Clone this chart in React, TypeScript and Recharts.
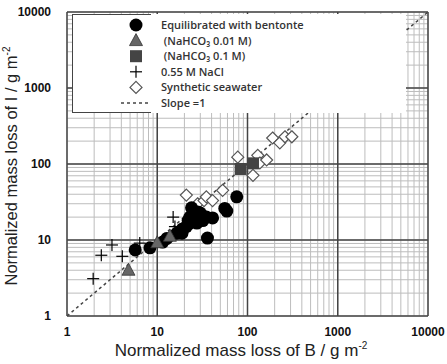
import React from "react";
import {
  ScatterChart,
  Scatter,
  XAxis,
  YAxis,
  CartesianGrid,
  ReferenceLine,
} from "recharts";

const decades = [1, 10, 100, 1000, 10000];
const gridTicks = [
  1, 2, 3, 4, 5, 6, 7, 8, 9, 10, 20, 30, 40, 50, 60, 70, 80, 90, 100, 200,
  300, 400, 500, 600, 700, 800, 900, 1000, 2000, 3000, 4000, 5000, 6000, 7000,
  8000, 9000, 10000,
];

const bentonite = [
  { x: 5.7, y: 7.4 },
  { x: 8.3, y: 7.9 },
  { x: 11.5, y: 9.4 },
  { x: 12.8, y: 10.5 },
  { x: 16.5, y: 12.3 },
  { x: 18.8, y: 12.3 },
  { x: 19, y: 14 },
  { x: 21, y: 15 },
  { x: 22, y: 18 },
  { x: 23, y: 20 },
  { x: 23, y: 16.7 },
  { x: 24, y: 26.5 },
  { x: 25, y: 18 },
  { x: 26, y: 21 },
  { x: 27.5, y: 16.7 },
  { x: 28, y: 23.4 },
  { x: 30, y: 22.6 },
  { x: 32, y: 18 },
  { x: 32, y: 20 },
  { x: 35, y: 20 },
  { x: 36, y: 10.6 },
  { x: 41, y: 19.5 },
  { x: 56, y: 26 },
  { x: 59, y: 24 },
  { x: 76, y: 37 },
];
const nahco3Low = [
  { x: 4.8, y: 4.0 },
  { x: 10, y: 9.2 },
  { x: 13.8, y: 11.2 },
];
const nahco3High = [
  { x: 84, y: 86 },
  { x: 115, y: 102 },
];
const nacl = [
  { x: 1.95, y: 3.1 },
  { x: 2.4, y: 6.3 },
  { x: 3.15, y: 8.6 },
  { x: 4.1, y: 6.1 },
  { x: 6.4, y: 9.1 },
  { x: 15, y: 20 },
  { x: 15.7, y: 15 },
];
const seawater = [
  { x: 21, y: 39 },
  { x: 28, y: 30 },
  { x: 33, y: 33 },
  { x: 35, y: 37 },
  { x: 41, y: 33 },
  { x: 53, y: 45 },
  { x: 78, y: 123 },
  { x: 115, y: 71 },
  { x: 130, y: 130 },
  { x: 137, y: 103 },
  { x: 163, y: 113 },
  { x: 190, y: 220 },
  { x: 228, y: 190 },
  { x: 260, y: 228 },
  { x: 310, y: 228 },
];
const slopeLine = [
  { x: 1, y: 1 },
  { x: 10000, y: 10000 },
];

const legendItems = [
  "Equilibrated with bentonte",
  " (NaHCO₃ 0.01 M)",
  " (NaHCO₃ 0.1 M)",
  "0.55 M NaCl",
  "Synthetic seawater",
  "Slope =1",
];

const Dot = (p: any) => <circle cx={p.cx} cy={p.cy} r={6.5} fill="#000" />;
const Tri = (p: any) => (
  <polygon
    points={`${p.cx},${p.cy - 7} ${p.cx - 6.5},${p.cy + 5} ${p.cx + 6.5},${p.cy + 5}`}
    fill="#666"
    stroke="#333"
    strokeWidth={0.8}
  />
);
const Sq = (p: any) => (
  <rect x={p.cx - 6} y={p.cy - 6} width={12} height={12} fill="#444" />
);
const Plus = (p: any) => (
  <g stroke="#000" strokeWidth={1.2}>
    <line x1={p.cx - 6} y1={p.cy} x2={p.cx + 6} y2={p.cy} />
    <line x1={p.cx} y1={p.cy - 6} x2={p.cx} y2={p.cy + 6} />
  </g>
);
const Diamond = (p: any) => (
  <polygon
    points={`${p.cx},${p.cy - 6} ${p.cx + 6},${p.cy} ${p.cx},${p.cy + 6} ${p.cx - 6},${p.cy}`}
    fill="#fff"
    stroke="#555"
    strokeWidth={1.2}
  />
);

const fmt = (v: number) => (decades.includes(v) ? String(v) : "");

export default function App() {
  return (
    <div
      style={{
        position: "absolute",
        left: 0,
        top: 0,
        width: 447,
        height: 364,
        background: "#fff",
        fontFamily: "Liberation Sans, Arial, sans-serif",
      }}
    >
      <ScatterChart
        width={447}
        height={364}
        margin={{ top: 12, right: 19, bottom: 0, left: 0 }}
      >
        <CartesianGrid stroke="#bdbdbd" strokeWidth={1} />
        <XAxis
          type="number"
          dataKey="x"
          scale="log"
          domain={[1, 10000]}
          ticks={gridTicks}
          interval={0}
          tickFormatter={fmt}
          allowDataOverflow
          axisLine={false}
          tickLine={false}
          tick={{ fill: "#111", fontSize: 12, fontWeight: "bold" }}
          tickMargin={5}
          height={48}
        />
        <YAxis
          type="number"
          dataKey="y"
          scale="log"
          domain={[1, 10000]}
          ticks={gridTicks}
          interval={0}
          tickFormatter={fmt}
          allowDataOverflow
          axisLine={false}
          tickLine={false}
          tick={{ fill: "#111", fontSize: 12, fontWeight: "bold" }}
          tickMargin={10}
          width={67}
        />
        {decades.map((d) => (
          <ReferenceLine key={"x" + d} x={d} stroke="#444" strokeWidth={1.5} />
        ))}
        {decades.map((d) => (
          <ReferenceLine key={"y" + d} y={d} stroke="#444" strokeWidth={1.5} />
        ))}
        <Scatter
          data={slopeLine}
          line={{ stroke: "#444", strokeWidth: 1.5, strokeDasharray: "3 3" }}
          shape={() => <g />}
          isAnimationActive={false}
        />
        <Scatter data={seawater} shape={Diamond} isAnimationActive={false} />
        <Scatter data={nacl} shape={Plus} isAnimationActive={false} />
        <Scatter data={bentonite} shape={Dot} isAnimationActive={false} />
        <Scatter data={nahco3Low} shape={Tri} isAnimationActive={false} />
        <Scatter data={nahco3High} shape={Sq} isAnimationActive={false} />
        <text
          x={241}
          y={356}
          textAnchor="middle"
          fontSize={17}
          fill="#222"
          fontFamily="Liberation Sans, Arial, sans-serif"
        >
          Normalized mass loss of B / g m
          <tspan fontSize={10} dy={-7}>
            -2
          </tspan>
        </text>
        <text
          transform="translate(17,166) rotate(-90)"
          textAnchor="middle"
          fontSize={16.5}
          fill="#222"
          fontFamily="Liberation Sans, Arial, sans-serif"
        >
          Normalized mass loss of I / g m
          <tspan fontSize={10} dy={-7}>
            -2
          </tspan>
        </text>
      </ScatterChart>
      <div
        style={{
          position: "absolute",
          left: 72,
          top: 14,
          width: 333,
          height: 99,
          background: "#fff",
          borderLeft: "1.5px solid #444",
        }}
      >
        <div
          style={{
            position: "absolute",
            left: 0,
            top: 0,
            width: 78,
            borderTop: "1.5px solid #444",
          }}
        />
        <div
          style={{
            position: "absolute",
            left: 0,
            bottom: 0,
            width: 78,
            borderBottom: "1.5px solid #444",
          }}
        />
        <svg
          width={333}
          height={99}
          style={{ position: "absolute", left: 0, top: 0 }}
        >
          {legendItems.map((label, i) => {
            const cy = 11 + i * 15.6;
            const cx = 63;
            return (
              <g key={label}>
                {i === 0 && <Dot cx={cx} cy={cy} />}
                {i === 1 && <Tri cx={cx} cy={cy} />}
                {i === 2 && <Sq cx={cx} cy={cy} />}
                {i === 3 && <Plus cx={cx} cy={cy} />}
                {i === 4 && <Diamond cx={cx} cy={cy} />}
                {i === 5 && (
                  <line
                    x1={48}
                    y1={cy}
                    x2={76}
                    y2={cy}
                    stroke="#444"
                    strokeWidth={1.5}
                    strokeDasharray="3 3"
                  />
                )}
                <text
                  x={88}
                  y={cy + 4}
                  fontSize={11}
                  fontWeight={600}
                  fill="#333"
                  fontFamily="Open Sans, sans-serif"
                  style={{ whiteSpace: "pre" }}
                >
                  {label}
                </text>
              </g>
            );
          })}
        </svg>
      </div>
    </div>
  );
}
